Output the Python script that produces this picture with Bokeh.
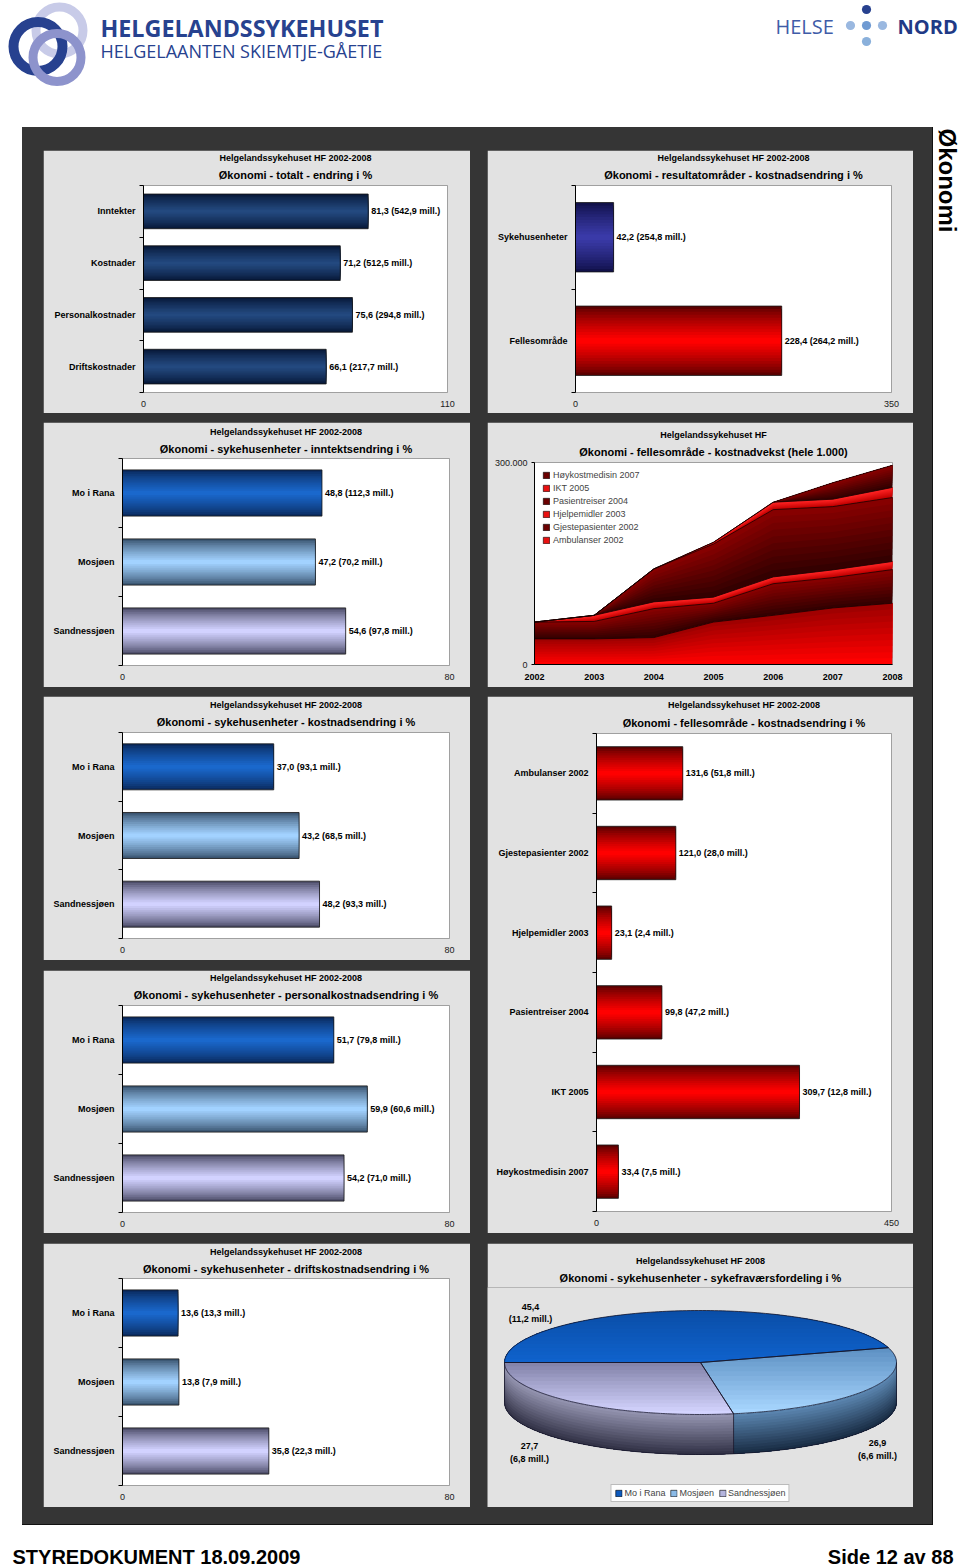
import math
import numpy as np
from bokeh.plotting import figure
from bokeh.layouts import column, row
from bokeh.models import (Range1d, LinearAxis, FixedTicker, Title, Legend, LegendItem, Spacer,
                          CustomJSTickFormatter)
from bokeh.embed import file_html
from bokeh.resources import INLINE
from bokeh.core.properties import value

# ------------------------------------------------------------------ data
total_cats = ["Inntekter", "Kostnader", "Personalkostnader", "Driftskostnader"]
total_vals = [81.3, 71.2, 75.6, 66.1]
total_mill = [542.9, 512.5, 294.8, 217.7]
total_max = 110

area_cats = ["Sykehusenheter", "Fellesområde"]
area_vals = [42.2, 228.4]
area_mill = [254.8, 264.2]
area_max = 350

units = ["Mo i Rana", "Mosjøen", "Sandnessjøen"]
income_vals = [48.8, 47.2, 54.6]
income_mill = [112.3, 70.2, 97.8]
cost_vals = [37.0, 43.2, 48.2]
cost_mill = [93.1, 68.5, 93.3]
staff_vals = [51.7, 59.9, 54.2]
staff_mill = [79.8, 60.6, 71.0]
ops_vals = [13.6, 13.8, 35.8]
ops_mill = [13.3, 7.9, 22.3]
unit_max = 80

common_cats = ["Ambulanser 2002", "Gjestepasienter 2002", "Hjelpemidler 2003",
               "Pasientreiser 2004", "IKT 2005", "Høykostmedisin 2007"]
common_vals = [131.6, 121.0, 23.1, 99.8, 309.7, 33.4]
common_mill = [51.8, 28.0, 2.4, 47.2, 12.8, 7.5]
common_max = 450

growth_years = [2002, 2003, 2004, 2005, 2006, 2007, 2008]
ambulanser_2002 = [38000, 38000, 40000, 63000, 73000, 84000, 91000]
gjestepasienter_2002 = [25000, 26000, 43000, 28000, 47000, 45000, 50000]
hjelpemidler_2003 = [0, 9000, 10000, 9000, 10000, 11500, 12000]
pasientreiser_2004 = [0, 0, 49000, 79000, 100000, 94000, 95000]
ikt_2005 = [0, 0, 0, 2500, 11000, 11000, 15000]
hoykostmedisin_2007 = [0, 0, 0, 0, 0, 24500, 33000]
growth_max = 300000

sick_units = ["Mo i Rana", "Mosjøen", "Sandnessjøen"]
sick_shares = [45.4, 26.9, 27.7]
sick_mill = [11.2, 6.6, 6.8]

# ------------------------------------------------------------------ style
FONT = "Liberation Sans"
LOGO_FONT = "Open Sans"
PANEL_BG = "#e2e2e2"
DARK_BG = "#353535"

NAVY = ("#071838", "#23497f")
INDIGO = ("#11114a", "#3a3aa8")
RED = ("#5c0000", "#ff0000")
UNIT_COLS = [("#0a2a5e", "#1a68cc"), ("#3a5470", "#a2d2ff"), ("#4c4c68", "#d2d2ff")]


def mix(c1, c2, t):
    a = [int(c1[i:i + 2], 16) for i in (1, 3, 5)]
    b = [int(c2[i:i + 2], 16) for i in (1, 3, 5)]
    return "#%02x%02x%02x" % tuple(int(round(x + (y - x) * t)) for x, y in zip(a, b))


def num(v):
    return f"{v:.1f}".replace(".", ",")


def fmt(v, m):
    return f"{num(v)} ({num(m)} mill.)"


def base_fig(w, h, left, right, top, bottom, **kw):
    p = figure(width=w, height=h, output_backend="svg", toolbar_location=None,
               x_axis_location=None, y_axis_location=None,
               min_border_left=left, min_border_right=right,
               min_border_top=top, min_border_bottom=bottom,
               border_fill_color=PANEL_BG, **kw)
    if "frame_align" in p.properties():
        p.frame_align = False
    p.xgrid.visible = False
    p.ygrid.visible = False
    return p


def add_titles(p, sub, main, main_standoff=9, sub_standoff=0):
    p.add_layout(Title(text=main, align="center", text_font=FONT, text_font_size="11px",
                       text_font_style="bold", text_color="black", standoff=main_standoff), "above")
    p.add_layout(Title(text=sub, align="center", text_font=FONT, text_font_size="9px",
                       text_font_style="bold", text_color="black", standoff=sub_standoff), "above")


CAT_CODE = """
const i = Math.round(cats.length - 0.5 - tick);
return (i >= 0 && i < cats.length) ? cats[i] : "";
"""


def bar_panel(w, h, borders, cats, vals, mills, xmax, cols, sub, main, main_standoff=9,
              bar_h=0.67):
    left, right, top, bottom = borders
    n = len(cats)
    pos = [n - 0.5 - i for i in range(n)]
    p = base_fig(w, h, left, right, top, bottom,
                 y_range=Range1d(0, n), x_range=Range1d(0, xmax),
                 background_fill_color="white", outline_line_color="#a0a0a0")
    cat_axis = LinearAxis(ticker=FixedTicker(ticks=pos, minor_ticks=list(range(n + 1))),
                          formatter=CustomJSTickFormatter(args=dict(cats=cats), code=CAT_CODE),
                          axis_line_color="black", major_tick_line_color=None,
                          minor_tick_line_color="black", minor_tick_in=0, minor_tick_out=4,
                          major_tick_in=0, major_tick_out=0, major_label_standoff=4,
                          major_label_text_font=FONT, major_label_text_font_size="9px",
                          major_label_text_font_style="bold", major_label_text_color="black")
    p.add_layout(cat_axis, "left")
    x_axis = LinearAxis(ticker=FixedTicker(ticks=[0, xmax]), axis_line_color=None,
                        major_tick_line_color=None, minor_tick_line_color=None,
                        major_tick_in=0, major_tick_out=0, major_label_standoff=8,
                        major_label_text_font=FONT, major_label_text_font_size="9px",
                        major_label_text_color="#202020")
    p.add_layout(x_axis, "below")
    K = 12
    for k in range(K):
        t = (k / (K - 1)) ** 0.8
        p.hbar(y=pos, left=0, right=vals, height=bar_h * (1 - k / K),
               fill_color=[mix(e, c, t) for e, c in cols], line_color=None)
    p.hbar(y=pos, left=0, right=vals, height=bar_h, fill_color=None,
           line_color="#151515", line_width=0.8)
    p.text(x=vals, y=pos, text=[fmt(v, m) for v, m in zip(vals, mills)], x_offset=3,
           text_baseline="middle", text_align="left", text_font=value(FONT),
           text_font_size="9px", text_font_style="bold", text_color="black")
    add_titles(p, sub, main, main_standoff)
    return p


SUB = "Helgelandssykehuset HF 2002-2008"

p1 = bar_panel(427, 263, (100, 23, 35, 21), total_cats, total_vals, total_mill, total_max,
               [NAVY] * 4, SUB, "Økonomi - totalt - endring i %")
p2 = bar_panel(426, 263, (88, 22, 35, 21), area_cats, area_vals, area_mill, area_max,
               [INDIGO, RED], SUB, "Økonomi - resultatområder - kostnadsendring i %")
p3 = bar_panel(427, 265, (79, 21, 36, 22), units, income_vals, income_mill, unit_max,
               UNIT_COLS, SUB, "Økonomi - sykehusenheter - inntektsendring i %", 8)
p5 = bar_panel(427, 264, (79, 21, 36, 22), units, cost_vals, cost_mill, unit_max,
               UNIT_COLS, SUB, "Økonomi - sykehusenheter - kostnadsendring i %")
p6 = bar_panel(427, 263, (79, 21, 35, 21), units, staff_vals, staff_mill, unit_max,
               UNIT_COLS, SUB, "Økonomi - sykehusenheter - personalkostnadsendring i %")
p7 = bar_panel(426, 537, (109, 22, 37, 22), common_cats, common_vals, common_mill, common_max,
               [RED] * 6, SUB, "Økonomi - fellesområde - kostnadsendring i %", 10)
p8 = bar_panel(427, 264, (79, 21, 35, 22), units, ops_vals, ops_mill, unit_max,
               UNIT_COLS, SUB, "Økonomi - sykehusenheter - driftskostnadsendring i %", 8)

# ------------------------------------------------------------------ stacked area panel
p4 = base_fig(426, 265, 47, 21, 40, 23, x_range=Range1d(2002, 2008),
              y_range=Range1d(0, growth_max), background_fill_color="white",
              outline_line_color="#a0a0a0")
growth_series = [ambulanser_2002, gjestepasienter_2002, hjelpemidler_2003,
                 pasientreiser_2004, ikt_2005, hoykostmedisin_2007]
DARK_L = ("#340000", "#860000")
RED_L = ("#c00000", "#ff2424")
layer_cols = [("#ff0000", "#a00000"), DARK_L, RED_L, DARK_L, RED_L, DARK_L]
legend_cols = ["#e81010", "#6b0000", "#e81010", "#6b0000", "#e81010", "#6b0000"]
cum = np.zeros(len(growth_years))
tops = []
for s, (cb, ct) in zip(growth_series, layer_cols):
    lower = cum.copy()
    upper = cum + np.array(s, dtype=float)
    K = 10
    for k in range(K):
        p4.varea(x=growth_years, y1=lower + (upper - lower) * k / K, y2=upper,
                 fill_color=mix(cb, ct, k / (K - 1)))
    cum = upper
    tops.append(upper)
for t in tops:
    p4.line(growth_years, t, line_color="#1c0000", line_width=0.8)

yax = LinearAxis(ticker=FixedTicker(ticks=[0, growth_max]),
                 formatter=CustomJSTickFormatter(code="return tick.toFixed(0).replace(/\\B(?=(\\d{3})+(?!\\d))/g, '.')"),
                 axis_line_color="black", major_tick_line_color="black", major_tick_out=3,
                 major_tick_in=0, minor_tick_line_color=None, major_label_standoff=4,
                 major_label_text_font=FONT, major_label_text_font_size="9px",
                 major_label_text_color="#202020")
xax = LinearAxis(ticker=FixedTicker(ticks=growth_years), axis_line_color="black",
                 major_tick_out=0, major_tick_in=0, major_tick_line_color=None,
                 minor_tick_line_color=None, major_label_standoff=9,
                 major_label_text_font=FONT, major_label_text_font_size="9px",
                 major_label_text_font_style="bold", major_label_text_color="black")
p4.add_layout(yax, "left")
p4.add_layout(xax, "below")
items = []
for name, col in reversed(list(zip(common_cats, legend_cols))):
    r = p4.quad(left=[growth_years[0]], right=[growth_years[0]], top=[0], bottom=[0],
                fill_color=col, line_color="black", line_width=0.6, visible=False)
    items.append(LegendItem(label=name, renderers=[r]))
p4.add_layout(Legend(items=items, location="top_left", margin=8, padding=0, spacing=3,
                     glyph_width=8, glyph_height=8, label_height=9, label_standoff=3,
                     label_text_font=FONT, label_text_font_size="9px",
                     background_fill_alpha=0, border_line_color=None))
add_titles(p4, "Helgelandssykehuset HF", "Økonomi - fellesområde - kostnadvekst (hele 1.000)", 9)

# ------------------------------------------------------------------ 3D pie panel
PW, PH, PTOP, PBOT = 426, 264, 44, 0
FH = PH - PTOP - PBOT
p9 = base_fig(PW, PH, 0, 0, PTOP, PBOT, x_range=Range1d(0, PW), y_range=Range1d(0, FH),
              background_fill_color=PANEL_BG, outline_line_color=None)
cx, cy, rx, ry, depth = PW / 2, 145, 196, 52, 40
fr = np.array(sick_shares) / sum(sick_shares)
bounds = 180 - 360 * np.concatenate([[0], np.cumsum(fr)])
side_cols = [("#24407a", "#0a2050"), ("#5a84ae", "#1a2e46"), ("#9292ae", "#343448")]
top_cols = [("#0a4ea8", "#0f62cc"), ("#5f92c4", "#a8d6ff"), ("#8484aa", "#d4d4ff")]


def clip_below(xs, ys, Y):
    ox, oy = [], []
    n = len(xs)
    for i in range(n):
        x1, y1 = xs[i], ys[i]
        x2, y2 = xs[(i + 1) % n], ys[(i + 1) % n]
        in1, in2 = y1 <= Y, y2 <= Y
        if in1:
            ox.append(x1)
            oy.append(y1)
        if in1 != in2:
            t = (Y - y1) / (y2 - y1)
            ox.append(x1 + t * (x2 - x1))
            oy.append(Y)
    return ox, oy


K = 14
for i in range(len(sick_shares)):
    a0, a1 = bounds[i], bounds[i + 1]
    lo, hi = max(a1, -180), min(a0, 0)
    if hi <= lo:
        continue
    t = np.radians(np.linspace(hi, lo, 90))
    ax_, ay_ = cx + rx * np.cos(t), cy + ry * np.sin(t)
    for k in range(K):
        off = depth * k / K
        xs = np.concatenate([ax_, ax_[::-1]])
        ys = np.concatenate([ay_ - off, (ay_ - depth)[::-1]])
        p9.patch(xs, ys, fill_color=mix(side_cols[i][0], side_cols[i][1], k / (K - 1)),
                 line_color=None)

wedges = []
for i in range(len(sick_shares)):
    t = np.radians(np.linspace(bounds[i], bounds[i + 1], 140))
    xs = list(np.concatenate([[cx], cx + rx * np.cos(t)]))
    ys = list(np.concatenate([[cy], cy + ry * np.sin(t)]))
    wedges.append((xs, ys))
    ymax, ymin = max(ys), min(ys)
    p9.patch(xs, ys, fill_color=top_cols[i][0], line_color=None)
    for k in range(1, K):
        Y = ymax - (ymax - ymin) * k / K
        cxs, cys = clip_below(xs, ys, Y)
        if len(cxs) > 2:
            p9.patch(cxs, cys, fill_color=mix(top_cols[i][0], top_cols[i][1], k / (K - 1)),
                     line_color=None)
for xs, ys in wedges:
    p9.patch(xs, ys, fill_color=None, line_color="#15152a", line_width=0.8)
tb = np.radians(np.linspace(180, 360, 180))
p9.line(cx + rx * np.cos(tb), cy - depth + ry * np.sin(tb), line_color="#15152a", line_width=0.8)
edge_angles = np.radians([180, 0, bounds[2]])
p9.segment(x0=cx + rx * np.cos(edge_angles), y0=cy + ry * np.sin(edge_angles),
           x1=cx + rx * np.cos(edge_angles), y1=cy + ry * np.sin(edge_angles) - depth,
           line_color="#15152a", line_width=0.8)

PIE_LABEL_POS = [(43, 194.5), (390, 58), (42, 55)]
p9.text(x=[q[0] for q in PIE_LABEL_POS], y=[q[1] for q in PIE_LABEL_POS],
        text=[f"{num(s)}\n({num(m)} mill.)" for s, m in zip(sick_shares, sick_mill)],
        text_align="center", text_baseline="middle", text_font=value(FONT),
        text_font_size="9px", text_font_style="bold", text_color="black", text_line_height=1.25)
pitems = []
for name, (a, b) in zip(sick_units, top_cols):
    r = p9.quad(left=[cx], right=[cx], top=[cy], bottom=[cy], fill_color=mix(a, b, 0.6),
                line_color="black", line_width=0.6, visible=False)
    pitems.append(LegendItem(label=name, renderers=[r]))
p9.add_layout(Legend(items=pitems, location="bottom_center", orientation="horizontal",
                     margin=5, padding=3, spacing=4, glyph_width=8, glyph_height=8,
                     label_height=9, label_standoff=2, label_text_font=FONT,
                     label_text_font_size="9px", background_fill_color="white",
                     border_line_color="#777777", border_line_width=1))
add_titles(p9, "Helgelandssykehuset HF 2008", "Økonomi - sykehusenheter - sykefraværsfordeling i %",
           8, 0)


# ------------------------------------------------------------------ page decorations
def plain_fig(w, h, xr, yr):
    p = figure(width=w, height=h, x_range=xr, y_range=yr, output_backend="svg",
               toolbar_location=None, x_axis_location=None, y_axis_location=None,
               min_border=0, background_fill_color="white", border_fill_color="white",
               outline_line_color=None)
    p.xgrid.visible = False
    p.ygrid.visible = False
    return p


header = plain_fig(960, 127, Range1d(0, 960), Range1d(127, 0))
header.circle(x=[59, 37.5, 56.5], y=[30, 46, 57], radius=[23.5, 24.5, 24],
              fill_color=None, line_color=["#c8cbe8", "#27418f", "#8d93cc"],
              line_width=[9, 10, 9])
header.text(x=[100, 100], y=[27, 50], text=["HELGELANDSSYKEHUSET", "HELGELAANTEN SKIEMTJE-GÅETIE"],
            text_font=value(LOGO_FONT), text_font_size=["23.3px", "18px"],
            text_font_style=["bold", "normal"], text_color="#27428f", text_baseline="middle")
header.text(x=[775], y=[26], text=["HELSE"], text_font=value(LOGO_FONT), text_font_size="20px",
            text_color="#3f5ca8", text_baseline="middle")
header.text(x=[897], y=[26], text=["NORD"], text_font=value(LOGO_FONT), text_font_size="20px",
            text_font_style="bold", text_color="#1f3a86", text_baseline="middle")
header.circle(x=[866, 850, 866, 882, 866], y=[9, 25, 25, 25, 41], radius=4.6,
              fill_color=["#27418f", "#9ab8e0", "#6f9ad2", "#9ab8e0", "#8ab0db"], line_color=None)

side = plain_fig(27, 1398, Range1d(933, 960), Range1d(1525, 127))
side.text(x=[947], y=[128], text=["Økonomi"], angle=-math.pi / 2, text_align="left",
          text_baseline="middle", text_font=value(FONT), text_font_size="24px",
          text_font_style="bold", text_color="black")

footer = plain_fig(960, 42, Range1d(0, 960), Range1d(1567, 1525))
footer.text(x=[12], y=[1556], text=["STYREDOKUMENT 18.09.2009"], text_font=value(FONT),
            text_font_size="20px", text_font_style="bold", text_color="black",
            text_baseline="middle", text_align="left")
footer.text(x=[953], y=[1556], text=["Side 12 av 88"], text_font=value(FONT),
            text_font_size="20px", text_font_style="bold", text_color="black",
            text_baseline="middle", text_align="right")

# ------------------------------------------------------------------ layout
dark = column(
    Spacer(width=911, height=23),
    row(Spacer(width=21, height=263), p1, Spacer(width=17, height=263), p2),
    Spacer(width=911, height=9),
    row(Spacer(width=21, height=265), p3, Spacer(width=17, height=265), p4),
    Spacer(width=911, height=9),
    row(Spacer(width=21, height=537), column(p5, Spacer(width=427, height=10), p6),
        Spacer(width=17, height=537), p7),
    Spacer(width=911, height=10),
    row(Spacer(width=21, height=264), p8, Spacer(width=17, height=264), p9),
    Spacer(width=911, height=18),
    styles={"background-color": DARK_BG, "box-shadow": "inset -1px -1px 0 #111111"},
)
middle = row(Spacer(width=22, height=1398), dark, side)
page = column(header, middle, footer)

open("out.html", "w").write(file_html(page, INLINE))
